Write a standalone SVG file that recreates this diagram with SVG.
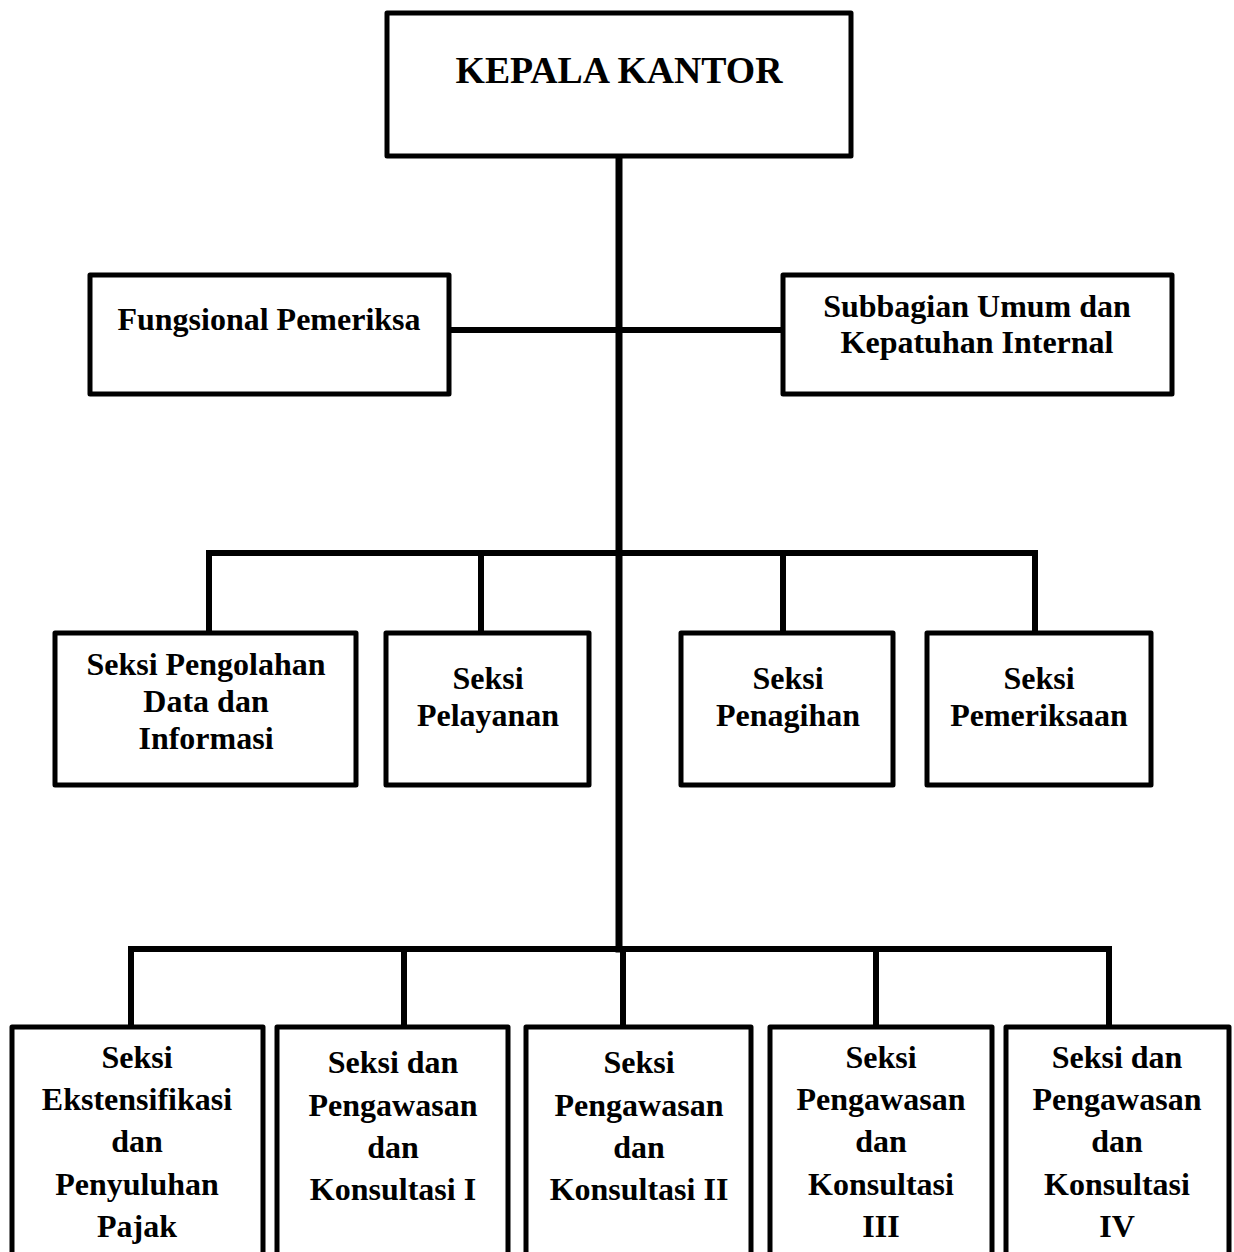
<svg xmlns="http://www.w3.org/2000/svg" width="1234" height="1252" viewBox="0 0 1234 1252">
<style>
.box{fill:#fff;stroke:#000;stroke-width:5;stroke-linejoin:round}
.ln{stroke:#000;stroke-width:6;fill:none;stroke-linecap:square}
.t{font-family:"Liberation Serif","Times New Roman",serif;font-weight:bold;font-size:32px;fill:#000;text-anchor:middle}
</style>
<rect width="1234" height="1252" fill="#fff"/>
<g id="connectors">
<line class="ln" x1="619" y1="156" x2="619" y2="949" style="stroke-width:7"/>
<line class="ln" x1="449" y1="330" x2="783" y2="330"/>
<line class="ln" x1="209" y1="553" x2="1035" y2="553"/>
<line class="ln" x1="209" y1="553" x2="209" y2="633"/>
<line class="ln" x1="481" y1="553" x2="481" y2="633"/>
<line class="ln" x1="783" y1="553" x2="783" y2="633"/>
<line class="ln" x1="1035" y1="553" x2="1035" y2="633"/>
<line class="ln" x1="131" y1="949" x2="1109" y2="949"/>
<line class="ln" x1="131" y1="949" x2="131" y2="1027"/>
<line class="ln" x1="404" y1="949" x2="404" y2="1027"/>
<line class="ln" x1="623" y1="949" x2="623" y2="1027"/>
<line class="ln" x1="876" y1="949" x2="876" y2="1027"/>
<line class="ln" x1="1109" y1="949" x2="1109" y2="1027"/>
</g>
<g id="kepala">
<rect class="box" x="387" y="13" width="464" height="143"/>
<text class="t" x="619" y="83" style="font-size:38px" textLength="327" lengthAdjust="spacingAndGlyphs">KEPALA KANTOR</text>
</g>
<g id="fungsional">
<rect class="box" x="90" y="275" width="359" height="119"/>
<text class="t" x="269" y="330">Fungsional Pemeriksa</text>
</g>
<g id="subbagian">
<rect class="box" x="783" y="275" width="389" height="119"/>
<text class="t" x="977" y="317">Subbagian Umum dan</text>
<text class="t" x="977" y="353">Kepatuhan Internal</text>
</g>
<g id="pdi">
<rect class="box" x="55" y="633" width="301" height="152"/>
<text class="t" x="206" y="675">Seksi Pengolahan</text>
<text class="t" x="206" y="712">Data dan</text>
<text class="t" x="206" y="749">Informasi</text>
</g>
<g id="pelayanan">
<rect class="box" x="386" y="633" width="203" height="152"/>
<text class="t" x="488" y="689">Seksi</text>
<text class="t" x="488" y="726">Pelayanan</text>
</g>
<g id="penagihan">
<rect class="box" x="681" y="633" width="212" height="152"/>
<text class="t" x="788" y="689">Seksi</text>
<text class="t" x="788" y="726">Penagihan</text>
</g>
<g id="pemeriksaan">
<rect class="box" x="927" y="633" width="224" height="152"/>
<text class="t" x="1039" y="689">Seksi</text>
<text class="t" x="1039" y="726">Pemeriksaan</text>
</g>
<g id="ekstensifikasi">
<rect class="box" x="12" y="1027" width="251" height="240"/>
<text class="t" x="137" y="1068">Seksi</text>
<text class="t" x="137" y="1110">Ekstensifikasi</text>
<text class="t" x="137" y="1152">dan</text>
<text class="t" x="137" y="1195">Penyuluhan</text>
<text class="t" x="137" y="1237">Pajak</text>
</g>
<g id="waskon1">
<rect class="box" x="277" y="1027" width="231" height="240"/>
<text class="t" x="393" y="1073">Seksi dan</text>
<text class="t" x="393" y="1116">Pengawasan</text>
<text class="t" x="393" y="1158">dan</text>
<text class="t" x="393" y="1200">Konsultasi I</text>
</g>
<g id="waskon2">
<rect class="box" x="526" y="1027" width="225" height="240"/>
<text class="t" x="639" y="1073">Seksi</text>
<text class="t" x="639" y="1116">Pengawasan</text>
<text class="t" x="639" y="1158">dan</text>
<text class="t" x="639" y="1200">Konsultasi II</text>
</g>
<g id="waskon3">
<rect class="box" x="770" y="1027" width="222" height="240"/>
<text class="t" x="881" y="1068">Seksi</text>
<text class="t" x="881" y="1110">Pengawasan</text>
<text class="t" x="881" y="1152">dan</text>
<text class="t" x="881" y="1195">Konsultasi</text>
<text class="t" x="881" y="1237">III</text>
</g>
<g id="waskon4">
<rect class="box" x="1006" y="1027" width="223" height="240"/>
<text class="t" x="1117" y="1068">Seksi dan</text>
<text class="t" x="1117" y="1110">Pengawasan</text>
<text class="t" x="1117" y="1152">dan</text>
<text class="t" x="1117" y="1195">Konsultasi</text>
<text class="t" x="1117" y="1237">IV</text>
</g>
</svg>
